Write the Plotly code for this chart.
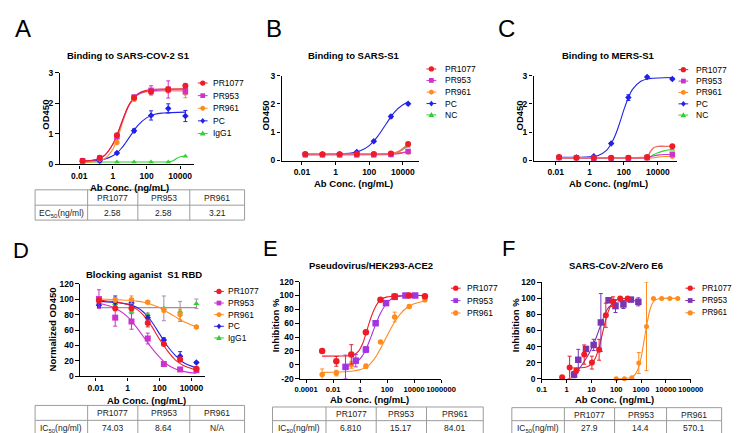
import plotly.graph_objects as go

W, H = 740, 433
FONT = "Liberation Sans, Arial, Helvetica, sans-serif"

RED = "#ee1c25"
MAG = "#cc33cc"
ORG = "#ff8b1f"
BLUE = "#2222e6"
GRN = "#2fd02f"
PUR_E = "#a334e3"
PUR_F = "#7a36b2"
IGG_FIT = "#a88aae"

# ================= Panel A : Binding to SARS-COV-2 S1 =================
A_logc = [-1.8, -0.78, 0.24, 1.26, 2.27, 3.29, 4.31]
A_PR1077 = [0.12, 0.22, 0.95, 2.18, 2.38, 2.45, 2.57]
A_PR1077_err = [0.02, 0.03, 0.05, 0.05, 0.06, 0.08, 0.05]
A_PR953 = [0.12, 0.20, 0.90, 2.20, 2.42, 2.45, 2.40]
A_PR953_err = [0.02, 0.02, 0.04, 0.06, 0.15, 0.28, 0.10]
A_PR961 = [0.07, 0.18, 0.72, 2.13, 2.35, 2.42, 2.33]
A_PR961_err = [0.01, 0.02, 0.04, 0.06, 0.06, 0.08, 0.15]
A_PC = [0.10, 0.12, 0.37, 1.10, 1.60, 1.83, 1.58]
A_PC_err = [0.01, 0.02, 0.03, 0.06, 0.15, 0.15, 0.18]
A_IgG1 = [0.08, 0.08, 0.08, 0.08, 0.08, 0.08, 0.27]
A_fit_logc = [-1.8, -1, -0.5, 0, 0.25, 0.5, 0.75, 1, 1.5, 2, 2.5, 3, 4.31]
A_fit_PR1077 = [0.108, 0.158, 0.29, 0.666, 0.97, 1.34, 1.70, 1.99, 2.31, 2.42, 2.456, 2.466, 2.47]
A_fit_PR953 = [0.108, 0.157, 0.288, 0.66, 0.96, 1.32, 1.68, 1.97, 2.28, 2.39, 2.42, 2.435, 2.44]
A_fit_PR961 = [0.072, 0.096, 0.18, 0.494, 0.816, 1.235, 1.654, 1.976, 2.29, 2.375, 2.392, 2.398, 2.40]
A_fit_PC = [0.105, 0.126, 0.17, 0.28, 0.38, 0.52, 0.70, 0.90, 1.28, 1.52, 1.64, 1.68, 1.71]
A_fit_IgG1_logc = [-1.8, 3.0, 3.29, 3.55, 3.8, 4.05, 4.31]
A_fit_IgG1 = [0.08, 0.08, 0.08, 0.11, 0.20, 0.26, 0.27]

# ================= Panel B : Binding to SARS-S1 =================
B_logc = [-1.8, -0.78, 0.24, 1.26, 2.27, 3.29, 4.31]
B_PR1077 = [0.23, 0.22, 0.22, 0.23, 0.23, 0.25, 0.58]
B_PR953 = [0.20, 0.20, 0.20, 0.20, 0.20, 0.21, 0.32]
B_PR961 = [0.22, 0.22, 0.22, 0.22, 0.22, 0.24, 0.30]
B_PC = [0.22, 0.22, 0.23, 0.30, 0.68, 1.55, 2.00]
B_PC_err = [0.01, 0.01, 0.01, 0.02, 0.03, 0.05, 0.03]
B_NC = [0.22, 0.21, 0.21, 0.21, 0.21, 0.22, 0.50]
B_fit_PC_logc = [-1.8, 0, 0.5, 1, 1.5, 2, 2.5, 3, 3.5, 4, 4.31]
B_fit_PC = [0.22, 0.23, 0.24, 0.27, 0.35, 0.525, 0.85, 1.29, 1.71, 1.97, 2.06]
B_fit_low_logc = [-1.8, 3.0, 3.29, 3.6, 3.9, 4.1, 4.31]
B_fit_PR1077 = [0.23, 0.235, 0.245, 0.28, 0.37, 0.47, 0.58]
B_fit_PR953 = [0.20, 0.203, 0.21, 0.23, 0.26, 0.29, 0.32]
B_fit_PR961 = [0.22, 0.225, 0.24, 0.26, 0.28, 0.29, 0.30]
B_fit_NC = [0.21, 0.215, 0.22, 0.27, 0.35, 0.43, 0.50]

# ================= Panel C : Binding to MERS-S1 =================
C_logc = [-1.8, -0.78, 0.24, 1.26, 2.27, 3.37, 4.85]
C_PR1077 = [0.12, 0.10, 0.10, 0.10, 0.10, 0.12, 0.50]
C_PR953 = [0.10, 0.10, 0.08, 0.07, 0.08, 0.10, 0.22]
C_PR961 = [0.10, 0.10, 0.08, 0.08, 0.08, 0.08, 0.15]
C_PC = [0.12, 0.11, 0.15, 0.60, 2.22, 2.95, 2.88]
C_PC_err = [0.01, 0.01, 0.02, 0.03, 0.10, 0.03, 0.03]
C_NC = [0.10, 0.10, 0.09, 0.09, 0.09, 0.09, 0.40]
C_fit_PC_logc = [-1.8, 0, 0.5, 1, 1.25, 1.5, 1.75, 2, 2.25, 2.5, 3, 3.5, 4.85]
C_fit_PC = [0.11, 0.13, 0.18, 0.37, 0.58, 0.89, 1.31, 1.78, 2.19, 2.50, 2.80, 2.89, 2.93]
C_fit_low_logc = [-1.8, 3.1, 3.37, 3.55, 3.75, 4.0, 4.4, 4.85]
C_fit_PR1077 = [0.10, 0.105, 0.12, 0.30, 0.45, 0.50, 0.50, 0.50]
C_fit_PR953 = [0.09, 0.092, 0.10, 0.13, 0.16, 0.19, 0.21, 0.22]
C_fit_PR961 = [0.08, 0.08, 0.08, 0.09, 0.10, 0.12, 0.14, 0.15]
C_fit_NC = [0.09, 0.09, 0.09, 0.13, 0.20, 0.27, 0.35, 0.40]

# ================= Panel D : Blocking aganist S1 RBD =================
D_logc = [-1.8, -0.78, 0.24, 1.26, 2.27, 3.29, 4.31]
D_PR1077 = [98, 88, 88, 69, 42, 22, 10]
D_PR1077_err = [3, 3, 2, 5, 2, 3, 3]
D_PR953 = [100, 76, 71, 49, 16, 9, 8]
D_PR953_err = [12, 11, 10, 7, 1, 1, 2]
D_PR961 = [99, 99, 99, 96, 86, 80, 64]
D_PR961_err = [2, 3, 5, 2, 3, 7, 1]
D_PC = [92, 96, 95, 76, 47, 26, 18]
D_PC_err = [3, 8, 2, 3, 3, 6, 1]
D_IgG1 = [95, 94, 84, 80, 88, 84, 94]
D_IgG1_err = [2, 2, 2, 2, 16, 13, 6]
D_fit_logc = [-1.8, -1, -0.5, 0, 0.5, 1, 1.5, 2, 2.5, 3, 3.5, 4.31]
D_fit_PR1077 = [98.5, 97, 95.5, 93, 88, 79, 65, 48, 33, 21, 14, 8]
D_fit_PC = [97, 96, 95, 93.5, 90, 83, 71, 55, 39, 27, 18, 11]
D_fit_PR953 = [95, 90, 85, 77, 65, 51, 37, 25, 15, 9.5, 6.5, 4]
D_fit_PR961 = [100, 99.5, 99, 98.5, 97.5, 96, 93, 89, 83, 77, 71, 64]
D_fit_IgG1_logc = [-1.8, 4.31]
D_fit_IgG1 = [89, 89]

# ================= Panel E : Pseudovirus/HEK293-ACE2 =================
E_logc_PR1077 = [-2.81, -1.76, -0.65, 0.43, 1.51, 2.56, 3.64, 4.8]
E_PR1077 = [20, 5, 15, 47, 94, 99, 100, 99]
E_PR1077_err = [0, 7, 14, 2, 1, 1, 1, 1]
E_logc_PR953 = [-1.08, -0.32, 0.43, 1.15, 1.92, 2.56, 3.36, 4.08]
E_PR953 = [-3, 6, 22, 60, 89, 98, 100, 100]
E_PR953_err = [17, 9, 4, 3, 3, 2, 1, 1]
E_logc_PR961 = [-2.81, -1.76, -0.65, 0.43, 1.51, 2.56, 3.64, 4.8]
E_PR961 = [-14, -12, 0, -2, 33, 69, 84, 94]
E_PR961_err = [8, 4, 5, 3, 1, 7, 2, 3]
E_fit_PR1077_logc = [-2.81, -1.5, -0.8, -0.4, -0.1, 0.2, 0.43, 0.7, 1.0, 1.3, 1.6, 2.0, 2.8, 4.8]
E_fit_PR1077 = [12.5, 12.6, 13, 15, 20, 31, 45, 62, 78, 89, 95, 98, 99.5, 100]
E_fit_PR953_logc = [-1.08, -0.6, -0.2, 0.1, 0.43, 0.8, 1.15, 1.5, 1.9, 2.3, 2.8, 4.08]
E_fit_PR953 = [-2, 0, 5, 11, 22, 40, 58, 74, 87, 95, 98.5, 100]
E_fit_PR961_logc = [-2.81, -1.5, -0.5, 0, 0.5, 1.0, 1.5, 2.0, 2.5, 3.0, 3.5, 4.0, 4.8]
E_fit_PR961 = [-11, -10.5, -9, -7, -3, 7, 23, 42, 60, 74, 83, 88, 92]

# ================= Panel F : SARS-CoV-2/Vero E6 =================
F_logc_PR1077 = [-0.18, 0.12, 0.39, 0.71, 1.02, 1.31, 1.58, 1.87, 2.16, 2.46]
F_PR1077 = [1.6, 14, 10, 30, 20, 36, 79, 96, 100, 100]
F_PR1077_err = [0, 14, 3, 12, 8, 13, 15, 6, 1, 1]
F_logc_PR953 = [0.30, 0.47, 0.78, 1.09, 1.38, 1.69, 1.97, 2.29, 2.59, 2.89]
F_PR953 = [5, 23.5, 37, 42, 70, 97.7, 90.4, 92.4, 98.5, 95.7]
F_PR953_err = [4, 13, 2, 7, 36, 3, 8, 5, 1, 5]
F_logc_PR961 = [2.0, 2.33, 2.63, 2.91, 3.22, 3.5, 3.83, 4.16, 4.48]
F_PR961 = [0, 0, 1, 19.5, 65, 100, 100, 100, 100]
F_PR961_err = [0, 0, 0, 13, 55, 0, 0, 0, 0]
F_fit_PR1077_logc = [0.12, 0.5, 0.8, 1.0, 1.15, 1.3, 1.45, 1.6, 1.75, 1.9, 2.1, 2.46]
F_fit_PR1077 = [13.2, 13.5, 14.5, 18, 25, 38, 57, 76, 89, 96, 99, 100]
F_fit_PR953_logc = [0.3, 0.5, 0.7, 0.9, 1.1, 1.25, 1.4, 1.55, 1.7, 1.9, 2.3, 2.89]
F_fit_PR953 = [5, 12, 21, 31, 44, 56, 69, 81, 89, 94, 96.5, 97]
F_fit_PR961_logc = [2.0, 2.35, 2.65, 2.85, 3.0, 3.12, 3.25, 3.38, 3.5, 3.7, 4.48]
F_fit_PR961 = [0, 0.3, 2, 10, 26, 47, 70, 88, 96, 99.5, 100]

# ================= tick labels =================
ABCD_xtick_vals = [0.01, 1, 100, 10000]
ABCD_xtick_text = ["0.01", "1", "100", "10000"]
E_xtick_vals = [1e-4, 1e-2, 1, 100, 1e4, 1e6]
E_xtick_text = ["0.0001", "0.01", "1", "100", "10000", "1000000"]
F_xtick_vals = [0.1, 1, 10, 100, 1000, 10000, 100000]
F_xtick_text = ["0.1", "1", "10", "100", "1000", "10000", "100000"]
ABC_ytick_vals = [0, 1, 2, 3]
DF_ytick_vals = [0, 20, 40, 60, 80, 100, 120]
E_ytick_vals = [-20, 0, 20, 40, 60, 80, 100, 120]
E_ytick_text = ["-20", "0", "20", "40", "60", "80", "100", "120"]

# ================= tables =================
T_header = ["", "PR1077", "PR953", "PR961"]
A_table_row = ["EC<sub>50</sub>(ng/ml)", "2.58", "2.58", "3.21"]
D_table_row = ["IC<sub>50</sub>(ng/ml)", "74.03", "8.64", "N/A"]
E_table_row = ["IC<sub>50</sub>(ng/ml)", "6.810", "15.17", "84.01"]
F_table_row = ["IC<sub>50</sub>(ng/ml)", "27.9", "14.4", "570.1"]

fig = go.Figure()
shapes = []
annots = []


def X(px):
    return px / W


def Y(py):
    return 1 - py / H


def tolog(v):
    return [10 ** e for e in v]


def refs(i):
    return ("x" if i == 1 else f"x{i}"), ("y" if i == 1 else f"y{i}")


def pts(i, logc, y, err, color, symbol, size, ecolor=None):
    xr, yr = refs(i)
    kw = {}
    if err is not None:
        kw["error_y"] = dict(type="data", array=err, visible=True,
                             color=ecolor or color, thickness=1, width=2)
    fig.add_trace(go.Scatter(x=tolog(logc), y=y, mode="markers", xaxis=xr, yaxis=yr,
                             marker=dict(symbol=symbol, size=size, color=color,
                                         line=dict(width=0)),
                             showlegend=False, cliponaxis=False, hoverinfo="skip", **kw))


def fit(i, logc, y, color, width=1.1, smoothing=1.0):
    xr, yr = refs(i)
    fig.add_trace(go.Scatter(x=tolog(logc), y=y, mode="lines", xaxis=xr, yaxis=yr,
                             line=dict(color=color, width=width, shape="spline",
                                       smoothing=smoothing),
                             showlegend=False, hoverinfo="skip"))


# ---- A
fit(1, A_fit_IgG1_logc, A_fit_IgG1, GRN, smoothing=0.8)
fit(1, A_fit_logc, A_fit_PC, BLUE)
fit(1, A_fit_logc, A_fit_PR961, ORG)
fit(1, A_fit_logc, A_fit_PR953, MAG)
fit(1, A_fit_logc, A_fit_PR1077, RED)
pts(1, A_logc, A_IgG1, None, GRN, "triangle-up", 5)
pts(1, A_logc, A_PC, A_PC_err, BLUE, "diamond", 5)
pts(1, A_logc, A_PR961, A_PR961_err, ORG, "hexagon", 6)
pts(1, A_logc, A_PR953, A_PR953_err, MAG, "square", 5.5)
pts(1, A_logc, A_PR1077, A_PR1077_err, RED, "circle", 6)

# ---- B
fit(2, B_fit_PC_logc, B_fit_PC, BLUE)
fit(2, B_fit_low_logc, B_fit_NC, GRN, smoothing=0.8)
fit(2, B_fit_low_logc, B_fit_PR961, ORG, smoothing=0.8)
fit(2, B_fit_low_logc, B_fit_PR953, MAG, smoothing=0.8)
fit(2, B_fit_low_logc, B_fit_PR1077, "#f26a6a", width=1.6, smoothing=0.8)
pts(2, B_logc, B_NC, None, GRN, "triangle-up", 5)
pts(2, B_logc, B_PC, B_PC_err, BLUE, "diamond", 5)
pts(2, B_logc, B_PR961, None, ORG, "hexagon", 6)
pts(2, B_logc, B_PR953, None, MAG, "square", 5.5)
pts(2, B_logc, B_PR1077, None, RED, "circle", 6)

# ---- C
fit(3, C_fit_PC_logc, C_fit_PC, BLUE)
fit(3, C_fit_low_logc, C_fit_NC, GRN, smoothing=0.8)
fit(3, C_fit_low_logc, C_fit_PR961, ORG, smoothing=0.8)
fit(3, C_fit_low_logc, C_fit_PR953, MAG, smoothing=0.8)
fit(3, C_fit_low_logc, C_fit_PR1077, "#f26a6a", width=1.4, smoothing=0.8)
pts(3, C_logc, C_NC, None, GRN, "triangle-up", 5)
pts(3, C_logc, C_PC, C_PC_err, BLUE, "diamond", 5)
pts(3, C_logc, C_PR961, None, ORG, "hexagon", 6)
pts(3, C_logc, C_PR953, None, MAG, "square", 5.5)
pts(3, C_logc, C_PR1077, None, RED, "circle", 6)

# ---- D
fit(4, D_fit_IgG1_logc, D_fit_IgG1, IGG_FIT, width=1.3)
fit(4, D_fit_logc, D_fit_PR961, ORG)
fit(4, D_fit_logc, D_fit_PC, BLUE)
fit(4, D_fit_logc, D_fit_PR953, MAG)
fit(4, D_fit_logc, D_fit_PR1077, RED)
pts(4, D_logc, D_IgG1, D_IgG1_err, GRN, "triangle-up", 5.5, ecolor=IGG_FIT)
pts(4, D_logc, D_PC, D_PC_err, BLUE, "diamond", 5)
pts(4, D_logc, D_PR961, D_PR961_err, ORG, "hexagon", 6)
pts(4, D_logc, D_PR953, D_PR953_err, MAG, "square", 6)
pts(4, D_logc, D_PR1077, D_PR1077_err, RED, "circle", 6)

# ---- E
fit(5, E_fit_PR961_logc, E_fit_PR961, ORG)
fit(5, E_fit_PR953_logc, E_fit_PR953, PUR_E)
fit(5, E_fit_PR1077_logc, E_fit_PR1077, RED)
pts(5, E_logc_PR961, E_PR961, E_PR961_err, ORG, "circle", 5.5)
pts(5, E_logc_PR953, E_PR953, E_PR953_err, PUR_E, "square", 6.5)
pts(5, E_logc_PR1077, E_PR1077, E_PR1077_err, RED, "circle", 6.5)

# ---- F
fit(6, F_fit_PR961_logc, F_fit_PR961, ORG)
fit(6, F_fit_PR953_logc, F_fit_PR953, PUR_F)
fit(6, F_fit_PR1077_logc, F_fit_PR1077, RED)
pts(6, F_logc_PR961, F_PR961, F_PR961_err, ORG, "circle", 5)
pts(6, F_logc_PR953, F_PR953, F_PR953_err, PUR_F, "square", 6.5)
pts(6, F_logc_PR1077, F_PR1077, F_PR1077_err, RED, "circle", 6)

# ================= axes =================
panels = {
    1: dict(xd=(48, 186), yd=(61, 155), xr=(-3.16, 4.82), yr=(0, 3), fs=8.5,
            xt=(ABCD_xtick_vals, ABCD_xtick_text), yt=(ABC_ytick_vals, [str(v) for v in ABC_ytick_vals])),
    2: dict(xd=(276, 417), yd=(64, 151), xr=(-3.21, 4.94), yr=(0, 3), fs=8.5,
            xt=(ABCD_xtick_vals, ABCD_xtick_text), yt=(ABC_ytick_vals, [str(v) for v in ABC_ytick_vals])),
    3: dict(xd=(535, 682), yd=(64, 151), xr=(-3.3, 5.1), yr=(0, 3), fs=8.5,
            xt=(ABCD_xtick_vals, ABCD_xtick_text), yt=(ABC_ytick_vals, [str(v) for v in ABC_ytick_vals])),
    4: dict(xd=(69, 197), yd=(277, 372), xr=(-2.98, 4.83), yr=(0, 120), fs=8.5,
            xt=(ABCD_xtick_vals, ABCD_xtick_text), yt=(DF_ytick_vals, [str(v) for v in DF_ytick_vals])),
    5: dict(xd=(295, 440), yd=(275, 374.3), xr=(-4.45, 6.0), yr=(-20, 120), fs=7.6,
            xt=(E_xtick_vals, E_xtick_text), yt=(E_ytick_vals, E_ytick_text)),
    6: dict(xd=(543.5, 697), yd=(275.7, 374.3), xr=(-1, 5.02), yr=(0, 120), fs=7.6,
            xt=(F_xtick_vals, F_xtick_text), yt=(DF_ytick_vals, [str(v) for v in DF_ytick_vals])),
}

common = dict(showline=True, linecolor="black", linewidth=1.4, ticks="outside", ticklen=3.5,
              tickwidth=1.4, tickcolor="black", showgrid=False, zeroline=False,
              fixedrange=True, tickmode="array", tickangle=0)
layout_axes = {}
for i, p in panels.items():
    xr, yr = refs(i)
    xk = "xaxis" if i == 1 else f"xaxis{i}"
    yk = "yaxis" if i == 1 else f"yaxis{i}"
    layout_axes[xk] = dict(domain=[X(p["xd"][0]), X(p["xd"][1])], type="log",
                           range=list(p["xr"]), anchor=yr, tickvals=p["xt"][0],
                           ticktext=p["xt"][1],
                           tickfont=dict(family=FONT, size=p["fs"], color="black", weight="bold"),
                           **common)
    layout_axes[yk] = dict(domain=[Y(p["yd"][1]), Y(p["yd"][0])], range=list(p["yr"]),
                           anchor=xr, tickvals=p["yt"][0], ticktext=p["yt"][1],
                           tickfont=dict(family=FONT, size=8.5, color="black", weight="bold"),
                           **common)


# ================= text helpers =================
def ann(text, x, y, size, angle=0, xanchor="center", yanchor="middle", color="black"):
    annots.append(dict(text=text, x=X(x), y=Y(y), xref="paper", yref="paper",
                       xanchor=xanchor, yanchor=yanchor, showarrow=False, textangle=angle,
                       font=dict(family=FONT, size=size, color=color)))


# panel letters
for t, x, y, s in [("A", 10.5, 16, 24), ("B", 268.5, 16, 24), ("C", 507.5, 16, 24),
                   ("D", 8.5, 243.5, 22), ("E", 265, 241.5, 22), ("F", 509, 241.5, 22)]:
    ann(t, x, y, s)

# titles
for t, x, y in [("Binding to SARS-COV-2 S1", 119, 43), ("Binding to SARS-S1", 350, 43),
                ("Binding to MERS-S1", 612, 43), ("Blocking aganist&nbsp; S1 RBD", 135, 268),
                ("Pseudovirus/HEK293-ACE2", 368, 258), ("SARS-CoV-2/Vero E6", 620, 258)]:
    ann("<b>" + t + "</b>", x, y, 9.5)

# x titles
for x, y in [(119.5, 179), (350, 175), (612, 175), (137, 397), (366.7, 396), (618, 396)]:
    ann("<b>Ab Conc. (ng/mL)</b>", x, y, 9.5)

# y titles
for t, x, y in [("OD450", 34, 104), ("OD450", 260, 105), ("OD450", 521, 105),
                ("Normalized OD450", 41, 324), ("Inhibition %", 270, 320),
                ("Inhibition %", 516.5, 320)]:
    ann("<b>" + t + "</b>", x, y, 9.5, angle=-90)


# ================= legends =================
def mshape(sym, cx, cy, r, color):
    base = dict(xref="paper", yref="paper", fillcolor=color, line=dict(width=0))
    if sym == "circle":
        return dict(type="circle", x0=X(cx - r), x1=X(cx + r), y0=Y(cy + r), y1=Y(cy - r), **base)
    if sym == "square":
        q = r * 0.9
        return dict(type="rect", x0=X(cx - q), x1=X(cx + q), y0=Y(cy + q), y1=Y(cy - q), **base)
    if sym == "diamond":
        p = [(cx, cy - r * 1.1), (cx + r * 0.9, cy), (cx, cy + r * 1.1), (cx - r * 0.9, cy)]
    elif sym == "triangle":
        p = [(cx, cy - r * 1.1), (cx + r * 1.1, cy + r * 0.8), (cx - r * 1.1, cy + r * 0.8)]
    else:  # hexagon
        p = [(cx, cy - r), (cx + r * 0.87, cy - r * 0.5), (cx + r * 0.87, cy + r * 0.5),
             (cx, cy + r), (cx - r * 0.87, cy + r * 0.5), (cx - r * 0.87, cy - r * 0.5)]
    path = "M " + " L ".join(f"{X(a):.5f},{Y(b):.5f}" for a, b in p) + " Z"
    return dict(type="path", path=path, **base)


def legend(entries, lx0, lx1, mx, tx, rows, r=2.7, fs=8.5):
    for (name, color, sym), yy in zip(entries, rows):
        shapes.append(dict(type="line", xref="paper", yref="paper", x0=X(lx0), x1=X(lx1),
                           y0=Y(yy), y1=Y(yy), line=dict(color=color, width=1)))
        shapes.append(mshape(sym, mx, yy, r, color))
        ann(name, tx, yy, fs, xanchor="left")


leg_ABD = [("PR1077", RED, "circle"), ("PR953", MAG, "square"), ("PR961", ORG, "hexagon"),
           ("PC", BLUE, "diamond"), ("IgG1", GRN, "triangle")]
leg_BC = [("PR1077", RED, "circle"), ("PR953", MAG, "square"), ("PR961", ORG, "hexagon"),
          ("PC", BLUE, "diamond"), ("NC", GRN, "triangle")]
leg_E = [("PR1077", RED, "circle"), ("PR953", PUR_E, "square"), ("PR961", ORG, "circle")]
leg_F = [("PR1077", RED, "circle"), ("PR953", PUR_F, "square"), ("PR961", ORG, "circle")]

legend(leg_ABD, 190, 200, 195, 203, [71.7, 84.6, 97.5, 110.4, 123.3])
legend(leg_BC, 425, 435, 430, 441.5, [57.3, 69, 81, 92.7, 104.3])
legend(leg_BC, 684, 694, 689, 700, [58, 69.7, 81.3, 93, 104.5])
legend(leg_ABD, 206.7, 216.7, 211.7, 219.3, [285, 296.9, 308.8, 320.7, 332.6])
legend(leg_E, 450, 460, 455, 465, [281.7, 294.4, 307.1])
legend(leg_F, 691, 701, 696, 706.5, [281.7, 294.3, 306.9], fs=8.2)


# ================= tables =================
def table(xs, ys, header, row):
    border = dict(color="#9c9c9c", width=1)
    shapes.append(dict(type="rect", xref="paper", yref="paper", x0=X(xs[0]), x1=X(xs[-1]),
                       y0=Y(ys[-1]), y1=Y(ys[0]), line=border))
    for xv in xs[1:-1]:
        shapes.append(dict(type="line", xref="paper", yref="paper", x0=X(xv), x1=X(xv),
                           y0=Y(ys[-1]), y1=Y(ys[0]), line=border))
    shapes.append(dict(type="line", xref="paper", yref="paper", x0=X(xs[0]), x1=X(xs[-1]),
                       y0=Y(ys[1]), y1=Y(ys[1]), line=border))
    for j in range(4):
        cx = (xs[j] + xs[j + 1]) / 2
        if header[j]:
            ann(header[j], cx, (ys[0] + ys[1]) / 2 + 0.5, 8.5, color="#222")
        ann(row[j], cx, (ys[1] + ys[2]) / 2 + 0.5, 8.5, color="#222")


table([22.7, 76.7, 128.3, 181.7, 238], [181, 196.7, 212], T_header, A_table_row)
table([22.7, 76.7, 128.3, 181.7, 238], [401.7, 417, 431.7], T_header, D_table_row)
table([266.7, 321.7, 373.3, 425, 483.3], [403.3, 417.3, 431.7], T_header, E_table_row)
table([512.7, 566.7, 618.3, 671.7, 728.3], [404, 417.3, 431.7], T_header, F_table_row)

fig.update_layout(width=W, height=H, autosize=False, margin=dict(l=0, r=0, t=0, b=0),
                  paper_bgcolor="white", plot_bgcolor="white", showlegend=False,
                  font=dict(family=FONT, color="black"),
                  shapes=shapes, annotations=annots, **layout_axes)

fig.write_html("out.html")
